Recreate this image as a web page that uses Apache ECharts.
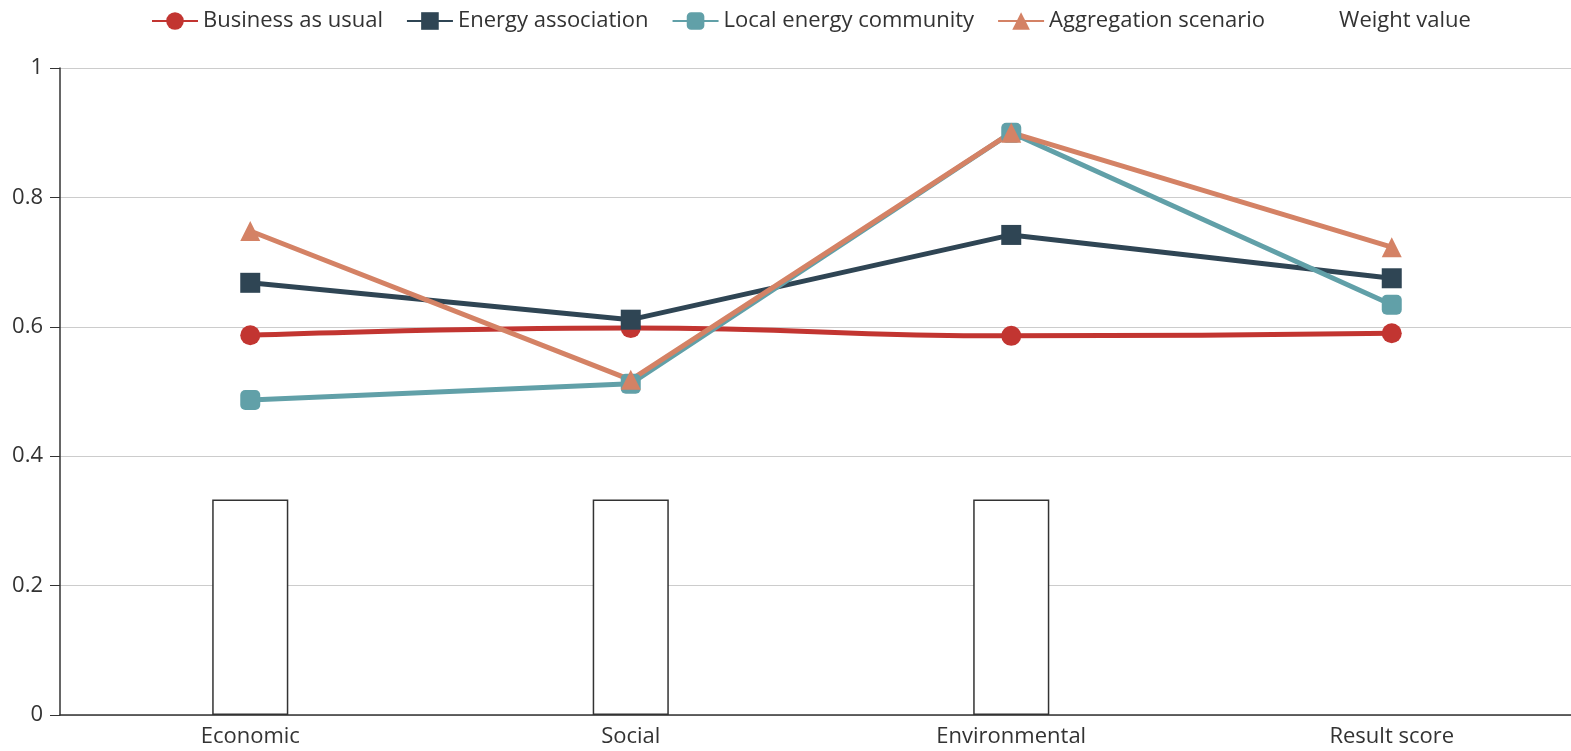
<!DOCTYPE html>
<html>
<head>
<meta charset="utf-8">
<script src="https://cdn.jsdelivr.net/npm/echarts@6/dist/echarts.min.js"></script>
<style>
  html, body { margin: 0; padding: 0; background: #fff; }
  #main { width: 1571px; height: 751px; }
</style>
</head>
<body>
<div id="main"></div>
<script>
const categories = ['Economic', 'Social', 'Environmental', 'Result score'];
const businessAsUsual = [0.587, 0.598, 0.586, 0.590];
const energyAssociation = [0.668, 0.611, 0.742, 0.675];
const localEnergyCommunity = [0.487, 0.512, 0.900, 0.634];
const aggregationScenario = [0.748, 0.518, 0.900, 0.723];
const weightValue = [0.333, 0.333, 0.333, null];

const chartDom = document.getElementById('main');
const myChart = echarts.init(chartDom);

const fontFamily = '"Open Sans", "Noto Sans", sans-serif';

function lineSeries(name, data, color, symbol, smooth) {
    return {
        name: name,
        type: 'line',
        data: data,
        smooth: smooth,
        symbol: symbol,
        symbolSize: 20,
        itemStyle: { color: color },
        lineStyle: { width: 5, color: color }
    };
}

const option = {
    animation: false,
    textStyle: { fontFamily: fontFamily },
    legend: {
        top: 5,
        left: 146,
        itemWidth: 46,
        itemHeight: 22,
        itemGap: 23,
        lineStyle: { width: 2 },
        textStyle: { fontSize: 22, color: '#333', fontFamily: fontFamily },
        data: [
            'Business as usual',
            'Energy association',
            'Local energy community',
            'Aggregation scenario',
            { name: 'Weight value', itemStyle: { color: 'rgba(0,0,0,0)', borderWidth: 0 } }
        ]
    },
    grid: {
        left: 60,
        width: 1522,
        top: 68,
        bottom: 36,
        outerBoundsMode: 'none'
    },
    xAxis: {
        type: 'category',
        data: categories,
        axisLine: { lineStyle: { color: '#333', width: 1.5 } },
        axisTick: { length: 9, lineStyle: { color: '#333' } },
        axisLabel: { fontSize: 22, color: '#333', margin: 11 }
    },
    yAxis: {
        type: 'value',
        min: 0,
        max: 1,
        interval: 0.2,
        axisLine: { show: true, lineStyle: { color: '#333', width: 1.5 } },
        axisTick: { show: true, length: 10, lineStyle: { color: '#333' } },
        axisLabel: { fontSize: 22, color: '#333', margin: 17 },
        splitLine: { lineStyle: { color: '#ccc' } }
    },
    series: [
        lineSeries('Business as usual', businessAsUsual, '#c23531', 'circle', true),
        lineSeries('Energy association', energyAssociation, '#2f4554', 'rect', false),
        lineSeries('Local energy community', localEnergyCommunity, '#61a0a8', 'roundRect', false),
        lineSeries('Aggregation scenario', aggregationScenario, '#d48265', 'triangle', false),
        {
            name: 'Weight value',
            type: 'bar',
            data: weightValue,
            barWidth: '20%',
            z: 1,
            itemStyle: {
                color: '#fff',
                borderColor: '#333',
                borderWidth: 1.5
            }
        }
    ]
};

myChart.setOption(option);
</script>
</body>
</html>
